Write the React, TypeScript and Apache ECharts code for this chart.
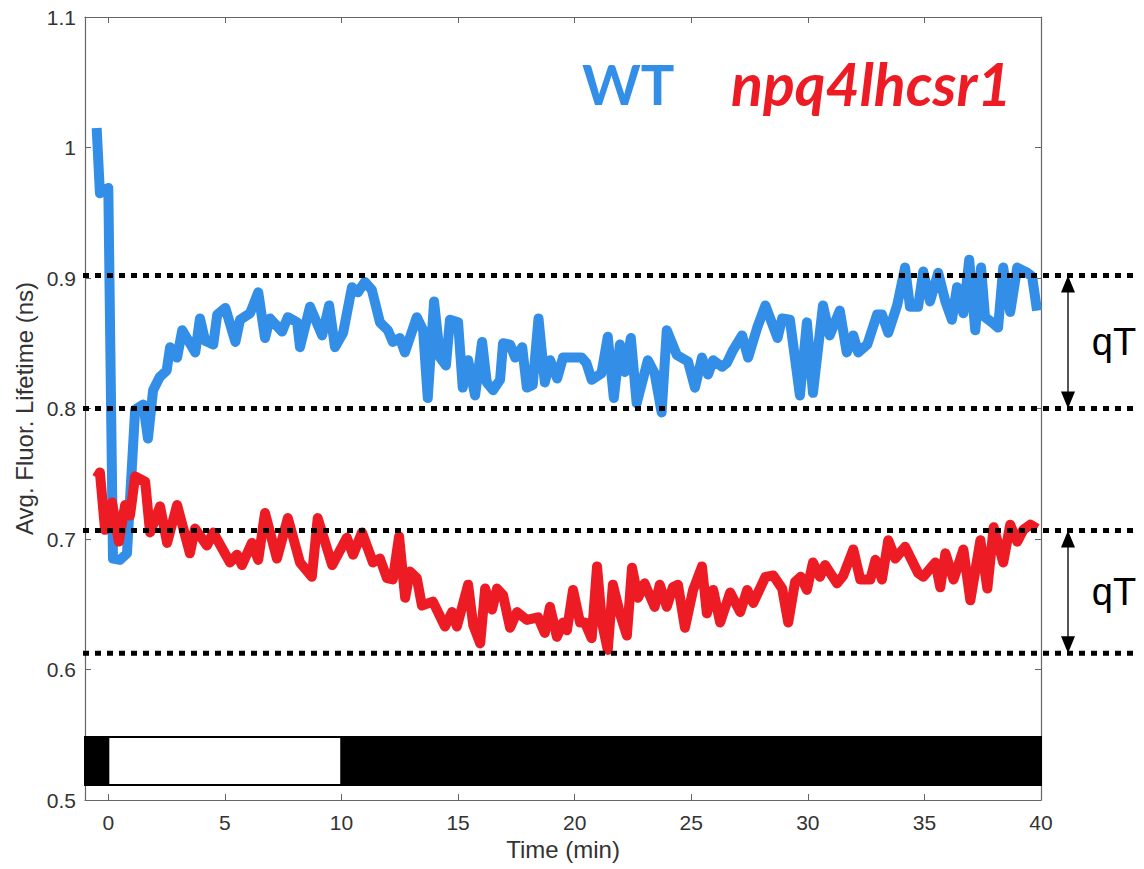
import { useEffect, useRef } from "react";
import * as echarts from "echarts";

// ---- data ----
const wtTime = [
  -0.5, -0.36, 0.0, 0.2, 0.5, 0.8, 1.15, 1.5, 1.7, 1.92, 2.2, 2.5, 2.65, 2.95, 3.17, 3.73, 3.93, 4.15, 4.5, 4.67,
  5.02, 5.45, 5.65, 6.08, 6.43, 6.72, 6.93, 7.45, 7.7, 8.1, 8.22, 8.65, 9.17, 9.47, 9.72, 10.07, 10.45, 10.7, 11.0,
  11.3, 11.65, 11.99, 12.2, 12.5, 12.72, 13.23, 13.5, 13.7, 13.97, 14.23, 14.48, 14.65, 15.0, 15.2, 15.43, 15.73,
  16.03, 16.23, 16.5, 16.8, 16.93, 17.23, 17.45, 17.75, 17.95, 18.2, 18.45, 18.72, 18.95, 19.25, 19.5, 19.8, 20.3,
  20.5, 20.73, 21.15, 21.42, 21.68, 21.94, 22.15, 22.41, 22.66, 23.14, 23.43, 23.73, 23.95, 24.38, 24.86, 25.16,
  25.46, 25.72, 25.94, 26.32, 26.53, 26.8, 27.18, 27.44, 27.83, 28.18, 28.7, 28.9, 29.23, 29.66, 29.96, 30.22,
  30.65, 30.94, 31.37, 31.67, 31.95, 32.16, 32.55, 32.97, 33.18, 33.45, 33.83, 34.17, 34.38, 34.73, 34.95, 35.24,
  35.59, 35.9, 36.18, 36.4, 36.67, 36.92, 37.18, 37.43, 37.6, 37.9, 38.16, 38.38, 38.68, 38.98, 39.41, 39.62, 39.83,
];
const wtLifetime = [
  1.015, 0.965, 0.969, 0.685, 0.684, 0.689, 0.799, 0.803, 0.777, 0.814, 0.824, 0.829, 0.847, 0.839, 0.86, 0.843,
  0.869, 0.852, 0.849, 0.872, 0.877, 0.851, 0.868, 0.873, 0.889, 0.854, 0.869, 0.859, 0.87, 0.866, 0.847, 0.878,
  0.856, 0.879, 0.847, 0.858, 0.893, 0.889, 0.897, 0.891, 0.866, 0.86, 0.851, 0.854, 0.843, 0.87, 0.86, 0.808,
  0.882, 0.839, 0.833, 0.868, 0.866, 0.816, 0.837, 0.81, 0.851, 0.82, 0.814, 0.822, 0.85, 0.849, 0.839, 0.847,
  0.816, 0.818, 0.869, 0.82, 0.837, 0.823, 0.839, 0.839, 0.839, 0.835, 0.822, 0.827, 0.855, 0.808, 0.849, 0.828,
  0.854, 0.804, 0.837, 0.827, 0.797, 0.86, 0.841, 0.836, 0.816, 0.839, 0.826, 0.837, 0.832, 0.835, 0.845, 0.856,
  0.839, 0.862, 0.879, 0.854, 0.869, 0.868, 0.81, 0.866, 0.812, 0.879, 0.856, 0.875, 0.843, 0.856, 0.843, 0.849,
  0.872, 0.872, 0.858, 0.879, 0.908, 0.878, 0.878, 0.905, 0.882, 0.904, 0.882, 0.868, 0.893, 0.873, 0.914, 0.86,
  0.908, 0.87, 0.866, 0.862, 0.908, 0.874, 0.908, 0.904, 0.901, 0.875,
];
const mutTime = [
  -0.5, -0.36, -0.14, 0.16, 0.45, 0.72, 0.93, 1.15, 1.58, 1.79, 2.22, 2.52, 2.95, 3.5, 3.72, 4.23, 4.5, 5.22, 5.52,
  5.73, 6.16, 6.43, 6.72, 7.23, 7.7, 8.22, 8.73, 8.98, 9.6, 10.23, 10.5, 10.88, 11.35, 11.65, 11.95, 12.2, 12.47,
  12.73, 12.94, 13.23, 13.45, 13.92, 14.44, 14.74, 14.95, 15.43, 15.65, 15.95, 16.16, 16.46, 16.67, 16.93, 17.23,
  17.53, 17.95, 18.43, 18.72, 18.94, 19.24, 19.5, 19.67, 19.93, 20.23, 20.44, 20.73, 20.96, 21.17, 21.42, 21.64,
  21.94, 22.24, 22.46, 22.72, 23.0, 23.43, 23.65, 23.95, 24.21, 24.43, 24.73, 25.08, 25.46, 25.67, 25.94, 26.24,
  26.67, 27.1, 27.4, 27.66, 28.18, 28.52, 28.9, 29.16, 29.45, 29.7, 29.96, 30.22, 30.52, 30.74, 31.25, 31.52, 31.95,
  32.25, 32.68, 32.9, 33.18, 33.45, 33.75, 34.17, 34.73, 34.95, 35.47, 35.68, 35.9, 36.25, 36.67, 36.97, 37.4, 37.7,
  37.97, 38.38, 38.68, 38.98, 39.24, 39.54, 39.83,
];
const mutLifetime = [
  0.747, 0.751, 0.707, 0.728, 0.698, 0.726, 0.718, 0.748, 0.744, 0.705, 0.725, 0.697, 0.726, 0.689, 0.708, 0.695,
  0.705, 0.682, 0.688, 0.68, 0.697, 0.684, 0.72, 0.685, 0.716, 0.682, 0.671, 0.716, 0.68, 0.701, 0.688, 0.705, 0.682,
  0.685, 0.67, 0.669, 0.702, 0.655, 0.675, 0.67, 0.649, 0.652, 0.633, 0.644, 0.633, 0.665, 0.634, 0.62, 0.662, 0.646,
  0.662, 0.657, 0.632, 0.644, 0.638, 0.64, 0.628, 0.648, 0.625, 0.636, 0.63, 0.661, 0.636, 0.636, 0.624, 0.679,
  0.636, 0.615, 0.665, 0.643, 0.626, 0.678, 0.655, 0.666, 0.648, 0.665, 0.648, 0.663, 0.665, 0.632, 0.661, 0.679,
  0.643, 0.661, 0.636, 0.659, 0.644, 0.661, 0.651, 0.671, 0.672, 0.662, 0.636, 0.667, 0.671, 0.661, 0.682, 0.671,
  0.68, 0.666, 0.672, 0.692, 0.669, 0.669, 0.684, 0.669, 0.699, 0.685, 0.694, 0.674, 0.671, 0.682, 0.663, 0.689,
  0.669, 0.692, 0.653, 0.699, 0.662, 0.709, 0.682, 0.711, 0.698, 0.707, 0.711, 0.708,
];
// light regime bar
const lightStart = [-1, 0, 10];
const lightEnd = [0, 10, 40];
const lightOn = [false, true, false];
const lightBarRange = [0.5115, 0.5483];
// qT reference levels
const wtLevels = [0.902, 0.8];
const mutLevels = [0.7065, 0.6125];
const xTickValues = [0, 5, 10, 15, 20, 25, 30, 35, 40];

const BLUE = "#338ee8";
const RED = "#ed1c24";
const AXIS = "#666";
const FONT = "'Liberation Sans', Arial, Helvetica, sans-serif";

export default function App() {
  const ref = useRef<HTMLDivElement>(null);
  useEffect(() => {
    document.body.style.margin = "0";
    const chart = echarts.init(ref.current!, null, { renderer: "svg" });
    const axisCommon = {
      type: "value",
      axisLine: { show: true, onZero: false, lineStyle: { color: AXIS, width: 1.2 } },
      axisTick: { show: true, inside: true, length: 6, lineStyle: { color: AXIS, width: 1 } },
      splitLine: { show: false },
    };
    const wtData = wtTime.map((t, i) => [t, wtLifetime[i]]);
    const mutData = mutTime.map((t, i) => [t, mutLifetime[i]]);
    const barData = lightStart.map((s, i) => [s, lightEnd[i], lightOn[i] ? 1 : 0]);
    chart.setOption({
      animation: false,
      grid: { left: 85, right: 103, top: 17, bottom: 69 },
      xAxis: [
        {
          ...axisCommon,
          min: -1,
          max: 40,
          position: "bottom",
          axisTick: { ...axisCommon.axisTick, customValues: xTickValues },
          axisLabel: {
            customValues: xTickValues,
            color: "#333",
            fontSize: 21,
            fontFamily: FONT,
            margin: 12,
          },
          name: "Time (min)",
          nameLocation: "middle",
          nameGap: 31,
          nameTextStyle: { color: "#333", fontSize: 24, fontFamily: FONT },
        },
        {
          ...axisCommon,
          min: -1,
          max: 40,
          position: "top",
          axisTick: { ...axisCommon.axisTick, customValues: xTickValues },
          axisLabel: { show: false },
        },
      ],
      yAxis: [
        {
          ...axisCommon,
          min: 0.5,
          max: 1.1,
          interval: 0.1,
          position: "left",
          axisLabel: { color: "#333", fontSize: 21, fontFamily: FONT, margin: 9 },
        },
        {
          ...axisCommon,
          min: 0.5,
          max: 1.1,
          interval: 0.1,
          position: "right",
          axisLabel: { show: false },
        },
      ],
      series: [
        {
          type: "custom",
          xAxisIndex: 0,
          yAxisIndex: 0,
          data: barData,
          renderItem: (params: any, api: any) => {
            const p0 = api.coord([api.value(0), lightBarRange[1]]);
            const p1 = api.coord([api.value(1), lightBarRange[0]]);
            const on = api.value(2) === 1;
            return {
              type: "rect",
              shape: { x: p0[0], y: p0[1], width: p1[0] - p0[0], height: p1[1] - p0[1] },
              style: { fill: on ? "#fff" : "#000", stroke: "#000", lineWidth: 2 },
            };
          },
          silent: true,
          z: 1,
        },
        {
          name: "WT",
          type: "line",
          data: wtData,
          showSymbol: false,
          lineStyle: { color: BLUE, width: 10, join: "round", cap: "butt" },
          itemStyle: { color: BLUE },
          z: 3,
        },
        {
          name: "npq4lhcsr1",
          type: "line",
          data: mutData,
          showSymbol: false,
          lineStyle: { color: RED, width: 10, join: "round", cap: "butt" },
          itemStyle: { color: RED },
          z: 4,
        },
      ],
    });

    const toPx = (x: number, y: number) =>
      chart.convertToPixel({ xAxisIndex: 0, yAxisIndex: 0 }, [x, y]) as number[];
    const left = toPx(-1, 0.5)[0];
    const right = toPx(40, 0.5)[0];
    const graphics: any[] = [];
    const addDotted = (v: number) => {
      const y = toPx(0, v)[1];
      graphics.push({
        type: "line",
        shape: { x1: left - 2, y1: y, x2: 1136, y2: y },
        style: { stroke: "#000", lineWidth: 5, lineDash: [6, 6] },
        z: 10,
      });
    };
    [...wtLevels, ...mutLevels].forEach(addDotted);
    const ax = right + 27;
    const addArrow = (top: number, bottom: number) => {
      const y1 = toPx(0, top)[1];
      const y2 = toPx(0, bottom)[1];
      graphics.push({
        type: "line",
        shape: { x1: ax, y1: y1 + 10, x2: ax, y2: y2 - 10 },
        style: { stroke: "#555", lineWidth: 2 },
        z: 11,
      });
      graphics.push({
        type: "polygon",
        shape: { points: [[ax, y1], [ax - 7, y1 + 17], [ax + 7, y1 + 17]] },
        style: { fill: "#000" },
        z: 11,
      });
      graphics.push({
        type: "polygon",
        shape: { points: [[ax, y2], [ax - 7, y2 - 17], [ax + 7, y2 - 17]] },
        style: { fill: "#000" },
        z: 11,
      });
      graphics.push({
        type: "text",
        x: ax + 46,
        y: (y1 + y2) / 2,
        style: {
          text: "qT",
          fill: "#000",
          fontSize: 38,
          fontFamily: FONT,
          align: "center",
          verticalAlign: "middle",
        },
        z: 11,
      });
    };
    addArrow(wtLevels[0], wtLevels[1]);
    addArrow(mutLevels[0], mutLevels[1]);
    const plotMid = (toPx(0, 0.5)[1] + toPx(0, 1.1)[1]) / 2;
    graphics.push({
      type: "text",
      x: 24,
      y: plotMid,
      rotation: Math.PI / 2,
      style: {
        text: "Avg. Fluor. Lifetime (ns)",
        fill: "#333",
        fontSize: 24,
        fontFamily: FONT,
        align: "center",
        verticalAlign: "middle",
      },
    });
    graphics.push({
      type: "text",
      x: 582,
      y: 83,
      style: {
        text: "WT",
        fill: BLUE,
        fontSize: 56,
        fontWeight: "bold",
        fontFamily: "Lato, 'Open Sans', sans-serif",
        align: "left",
        verticalAlign: "middle",
      },
      z: 12,
    });
    graphics.push({
      type: "text",
      x: 731,
      y: 83,
      style: {
        text: "npq4lhcsr1",
        fill: RED,
        fontSize: 59,
        fontWeight: "bold",
        fontStyle: "italic",
        fontFamily: "Lato, 'Open Sans', sans-serif",
        align: "left",
        verticalAlign: "middle",
      },
      z: 12,
    });
    chart.setOption({ graphic: graphics });
    return () => chart.dispose();
  }, []);
  return <div ref={ref} style={{ width: 1144, height: 869 }} />;
}
